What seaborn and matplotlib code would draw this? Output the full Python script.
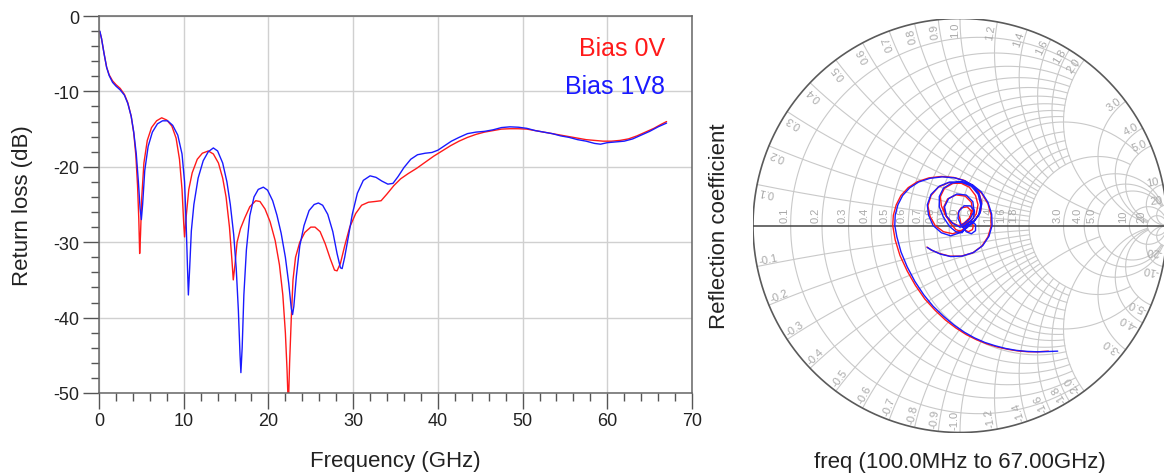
import numpy as np
import pandas as pd
import matplotlib
matplotlib.use("Agg")
import matplotlib.pyplot as plt
import seaborn as sns
from matplotlib.ticker import MultipleLocator

# ---------------- data: return loss (dB) vs frequency (GHz) ----------------
freq_0v = [0.1, 0.3, 0.6, 0.9, 1.2, 1.6, 2.0, 2.5, 3.0, 3.4, 3.8, 4.1, 4.35, 4.55, 4.7, 4.8,
           4.9, 5.05, 5.3, 5.7, 6.2, 6.8, 7.4, 8.0, 8.6, 9.1, 9.5, 9.8, 10.0, 10.1, 10.3, 10.6,
           11.0, 11.6, 12.2, 12.9, 13.5, 14.1, 14.6, 15.0, 15.4, 15.7, 15.85, 16.05, 16.3, 16.7,
           17.2, 17.8, 18.5, 19.0, 19.6, 20.2, 20.8, 21.3, 21.7, 22.0, 22.2, 22.35, 22.5, 22.7,
           22.9, 23.2, 23.7, 24.3, 25.0, 25.5, 26.1, 26.7, 27.3, 27.8, 28.1, 28.5, 29.0, 29.6,
           30.3, 31.0, 31.8, 32.6, 33.3, 34.0, 34.8, 35.6, 36.5, 37.5, 38.5, 39.5, 40.5, 41.5,
           42.5, 43.5, 44.5, 45.5, 46.5, 47.5, 48.5, 49.5, 50.5, 51.5, 52.5, 53.5, 54.5, 55.5,
           56.5, 57.5, 58.5, 59.5, 60.5, 61.5, 62.5, 63.5, 64.5, 65.5, 66.3, 67.0]
rl_0v = [-2.1, -3.0, -5.0, -6.8, -7.8, -8.6, -9.1, -9.6, -10.4, -11.5, -13.3, -15.5, -18.5, -22.5, -27.0, -31.5,
         -29.0, -24.0, -19.5, -16.5, -14.8, -13.9, -13.5, -13.8, -14.6, -16.2, -19.0, -23.0, -27.5, -29.3, -26.5, -23.0,
         -20.8, -19.0, -18.2, -17.9, -18.3, -19.5, -21.5, -24.0, -28.0, -32.5, -35.0, -33.0, -30.0, -28.2,
         -26.8, -25.3, -24.5, -24.6, -25.6, -27.3, -29.8, -33.0, -37.0, -42.0, -47.0, -52.0, -46.0, -40.0,
         -35.0, -32.0, -30.0, -28.7, -28.0, -28.0, -28.6, -30.2, -32.2, -33.7, -33.8, -32.8, -30.5, -28.0,
         -26.2, -25.1, -24.7, -24.6, -24.5, -23.6, -22.5, -21.6, -20.9, -20.2, -19.4, -18.6, -17.9, -17.2,
         -16.6, -16.1, -15.7, -15.4, -15.2, -15.0, -14.95, -14.95, -15.0, -15.2, -15.4, -15.6, -15.8, -16.0,
         -16.2, -16.4, -16.5, -16.6, -16.6, -16.5, -16.3, -15.9, -15.4, -14.9, -14.4, -14.0]

freq_1v8 = [0.1, 0.3, 0.6, 0.9, 1.2, 1.6, 2.0, 2.5, 3.0, 3.4, 3.8, 4.1, 4.4, 4.65, 4.85, 5.0,
            5.15, 5.4, 5.8, 6.3, 6.9, 7.5, 8.1, 8.7, 9.3, 9.8, 10.1, 10.3, 10.45, 10.55, 10.7, 10.9,
            11.2, 11.7, 12.3, 12.9, 13.5, 14.0, 14.6, 15.1, 15.5, 15.9, 16.2, 16.45, 16.65, 16.75,
            16.9, 17.1, 17.4, 17.8, 18.3, 18.8, 19.4, 19.9, 20.5, 21.0, 21.5, 22.0, 22.4, 22.7,
            22.85, 23.0, 23.3, 23.7, 24.2, 24.8, 25.4, 25.9, 26.4, 27.0, 27.6, 28.1, 28.5, 28.7,
            29.0, 29.4, 29.9, 30.5, 31.2, 32.0, 32.7, 33.4, 34.1, 34.7, 35.3, 36.0, 36.8, 37.6,
            38.5, 39.3, 40.0, 40.8, 41.6, 42.5, 43.5, 44.5, 45.5, 46.5, 47.5, 48.5, 49.5, 50.5,
            51.5, 52.5, 53.5, 54.5, 55.5, 56.5, 57.5, 58.5, 59.2, 60.0, 61.0, 62.0, 63.0, 64.0,
            65.0, 66.0, 67.0]
rl_1v8 = [-2.0, -3.0, -5.0, -6.8, -7.9, -8.8, -9.3, -9.8, -10.5, -11.6, -13.3, -15.4, -18.3, -22.0, -25.5, -27.0,
          -25.0, -20.5, -17.3, -15.4, -14.3, -13.9, -13.9, -14.5, -15.8, -18.3, -22.0, -28.0, -33.5, -37.0, -33.5, -28.5,
          -25.0, -21.5, -19.2, -18.0, -17.5, -17.9, -19.5, -22.0, -25.0, -29.0, -33.5, -39.0, -45.0, -47.3,
          -44.0, -37.0, -31.0, -26.5, -24.0, -23.0, -22.7, -23.1, -24.5, -26.4, -28.8, -32.0, -35.5, -38.8,
          -39.6, -38.5, -34.5, -30.5, -27.8, -25.8, -25.0, -24.8, -25.1, -26.3, -28.6, -31.5, -33.4, -33.5,
          -32.0, -29.5, -26.3, -23.5, -21.8, -21.2, -21.4, -21.9, -22.3, -22.2, -21.3, -20.1, -19.0, -18.4,
          -18.2, -18.1, -17.8, -17.2, -16.6, -16.1, -15.6, -15.4, -15.3, -15.1, -14.8, -14.7, -14.75, -14.9,
          -15.2, -15.4, -15.6, -15.9, -16.1, -16.4, -16.6, -16.9, -17.0, -16.8, -16.7, -16.6, -16.3, -15.8,
          -15.3, -14.7, -14.2]

# ---------------- data: reflection coefficient (real, imag) ----------------
gamma_re_0v = [0.427, 0.38, 0.33, 0.28, 0.23, 0.18, 0.13, 0.08, 0.03, -0.02, -0.07, -0.12, -0.17, -0.215,
               -0.255, -0.29, -0.313, -0.325, -0.322, -0.308, -0.285, -0.25, -0.205, -0.15, -0.09, -0.03, 0.02,
               0.06, 0.09, 0.105, 0.10, 0.075, 0.04, 0.005,
               -0.035, -0.08, -0.12, -0.145, -0.155, -0.14, -0.105, -0.055, 0.0, 0.045, 0.075, 0.087, 0.078,
               0.05, 0.02, -0.01,
               -0.04, -0.07, -0.078, -0.06, -0.02, 0.025, 0.055, 0.06, 0.045, 0.02, 0.005,
               0.0, -0.01, 0.005, 0.035, 0.055, 0.05, 0.03, 0.015,
               0.02, 0.04, 0.06, 0.065, 0.05, 0.03, 0.025,
               0.01, -0.02, -0.045, -0.07, -0.09, -0.095, -0.075, -0.035, 0.015, 0.065, 0.105, 0.135, 0.15,
               0.15, 0.135, 0.105, 0.06, 0.005, -0.05, -0.1, -0.14, -0.16]
gamma_im_0v = [-0.607, -0.61, -0.61, -0.606, -0.598, -0.587, -0.572, -0.552, -0.527, -0.495, -0.457, -0.41,
               -0.355, -0.29, -0.22, -0.145, -0.07, 0.0, 0.05, 0.10, 0.145, 0.183, 0.212, 0.23, 0.237, 0.232,
               0.218,
               0.195, 0.16, 0.115, 0.07, 0.03, 0.0, -0.025,
               -0.04, -0.03, 0.0, 0.045, 0.095, 0.145, 0.185, 0.207, 0.207, 0.185, 0.145, 0.10, 0.055,
               0.02, 0.0, 0.0,
               0.015, 0.05, 0.09, 0.128, 0.148, 0.142, 0.112, 0.07, 0.035, 0.012, 0.005,
               0.03, 0.06, 0.085, 0.09, 0.07, 0.04, 0.02, 0.0,
               -0.02, -0.03, -0.02, 0.0, 0.02, 0.015, -0.005,
               -0.03, -0.02, 0.01, 0.05, 0.095, 0.14, 0.18, 0.203, 0.207, 0.19, 0.155, 0.105, 0.05,
               -0.005, -0.055, -0.1, -0.133, -0.148, -0.148, -0.135, -0.118, -0.104]

gamma_re_1v8 = [0.472, 0.42, 0.37, 0.32, 0.27, 0.22, 0.17, 0.12, 0.07, 0.02, -0.03, -0.08, -0.13, -0.175,
                -0.218, -0.255, -0.285, -0.305, -0.315, -0.313, -0.3, -0.277, -0.243, -0.2, -0.145, -0.085,
                -0.025, 0.025,
                0.065, 0.093, 0.105, 0.097, 0.07, 0.035, 0.0,
                -0.045, -0.09, -0.13, -0.152, -0.158, -0.14, -0.1, -0.05, 0.005, 0.055, 0.088, 0.1, 0.09,
                0.06, 0.025, 0.0,
                -0.035, -0.065, -0.075, -0.055, -0.015, 0.03, 0.062, 0.068, 0.05, 0.02, 0.005,
                -0.01, -0.005, 0.02, 0.05, 0.07, 0.065, 0.04, 0.012,
                0.03, 0.055, 0.075, 0.075, 0.055, 0.035, 0.028,
                0.01, -0.02, -0.05, -0.08, -0.1, -0.1, -0.08, -0.04, 0.01, 0.06, 0.103, 0.135, 0.153,
                0.155, 0.14, 0.11, 0.066, 0.01, -0.045, -0.095, -0.135, -0.158]
gamma_im_1v8 = [-0.607, -0.609, -0.61, -0.608, -0.603, -0.594, -0.581, -0.565, -0.543, -0.515, -0.48,
                -0.438, -0.39, -0.335, -0.27, -0.2, -0.128, -0.055, 0.0, 0.05, 0.10, 0.145, 0.182, 0.21,
                0.228, 0.235, 0.23, 0.215,
                0.19, 0.152, 0.105, 0.06, 0.022, -0.01, -0.035,
                -0.05, -0.035, 0.0, 0.05, 0.10, 0.15, 0.19, 0.21, 0.21, 0.19, 0.15, 0.10, 0.05,
                0.012, -0.005, -0.008,
                0.01, 0.045, 0.09, 0.13, 0.152, 0.147, 0.115, 0.07, 0.033, 0.01, 0.0,
                0.035, 0.07, 0.095, 0.095, 0.07, 0.035, 0.01, -0.005,
                -0.03, -0.04, -0.025, 0.005, 0.02, 0.01, -0.01,
                -0.035, -0.03, -0.005, 0.04, 0.09, 0.14, 0.18, 0.205, 0.212, 0.197, 0.162, 0.112, 0.055,
                0.0, -0.052, -0.097, -0.13, -0.148, -0.15, -0.138, -0.12, -0.106]

series_names = ["Bias 0V", "Bias 1V8"]
RED = "#ff1a1a"
BLUE = "#1a1aff"

# smith chart grid values
r_values = [0.1, 0.2, 0.3, 0.4, 0.5, 0.6, 0.7, 0.8, 0.9, 1.0, 1.2, 1.4, 1.6, 1.8, 2.0, 3.0, 4.0, 5.0, 10, 20]
r_labels = ["0.1", "0.2", "0.3", "0.4", "0.5", "0.6", "0.7", "0.8", "0.9", "1.0", "1.2", "1.4", "1.6", "1.8",
            "", "3.0", "4.0", "5.0", "10", "20"]
x_values = [0.1, 0.2, 0.3, 0.4, 0.5, 0.6, 0.7, 0.8, 0.9, 1.0, 1.2, 1.4, 1.6, 1.8, 2.0, 3.0, 4.0, 5.0, 10, 20]
x_labels = ["0.1", "0.2", "0.3", "0.4", "0.5", "0.6", "0.7", "0.8", "0.9", "1.0", "1.2", "1.4", "1.6", "1.8",
            "2.0", "3.0", "4.0", "5.0", "10", "20"]

# ---------------- style ----------------
sns.set_style("white")
plt.rcParams["font.family"] = ["Liberation Sans", "DejaVu Sans"]
plt.rcParams["axes.unicode_minus"] = False

W, H = 1164, 477
fig = plt.figure(figsize=(W / 100, H / 100), dpi=100)

# ---------------- left: return loss ----------------
ax = fig.add_axes([99 / W, (H - 394) / H, 593 / W, 377 / H])
df = pd.DataFrame({
    "freq": freq_0v + freq_1v8,
    "rl": rl_0v + rl_1v8,
    "bias": [series_names[0]] * len(freq_0v) + [series_names[1]] * len(freq_1v8),
})
sns.lineplot(data=df, x="freq", y="rl", hue="bias", hue_order=series_names,
             palette={series_names[0]: RED, series_names[1]: BLUE},
             estimator=None, sort=False, lw=1.0, legend=False, ax=ax)
ax.set_xlim(0, 70)
ax.set_ylim(-50, 0)
ax.xaxis.set_major_locator(MultipleLocator(10))
ax.xaxis.set_minor_locator(MultipleLocator(2))
ax.yaxis.set_major_locator(MultipleLocator(10))
ax.yaxis.set_minor_locator(MultipleLocator(2))
ax.tick_params(which="both", bottom=True, left=True, top=False, right=False)
ax.tick_params(which="major", direction="out", length=11.5, width=1.0, color="#555555",
               labelsize=13, pad=2.5, labelcolor="#222222")
ax.tick_params(which="minor", direction="out", length=5.8, width=1.0, color="#555555")
ax.grid(True, which="major", color="#d0d0d0", lw=1.0)
ax.grid(False, which="minor")
ax.set_axisbelow(True)
for s in ax.spines.values():
    s.set_color("#666666")
    s.set_linewidth(1.1)
ax.set_xlabel("Frequency (GHz)", fontsize=16, color="#222222")
ax.set_ylabel("Return loss (dB)", fontsize=16, color="#222222")
ax.xaxis.label.set_va("center")
ax.yaxis.label.set_va("center")
ax.xaxis.set_label_coords(0.5, (394 - 462) / 377)
ax.yaxis.set_label_coords((23 - 99) / 593, 0.5)
ax.text(0.9545, 0.915, series_names[0], color=RED, fontsize=18, ha="right", va="center",
        transform=ax.transAxes)
ax.text(0.9545, 0.814, series_names[1], color=BLUE, fontsize=18, ha="right", va="center",
        transform=ax.transAxes)

# ---------------- right: Smith chart ----------------
R = 207.0
cx, cy = 960.0, 226.5
ax2 = fig.add_axes([(cx - R) / W, (H - cy - R) / H, 2 * R / W, 2 * R / H])
ax2.set_xlim(-1, 1)
ax2.set_ylim(-1, 1)
ax2.axis("off")

GRID = "#c9c9c9"
LAB = "#a9a9a9"


def gam(z):
    return (z - 1) / (z + 1)


def r_limit(r):
    if r >= 10:
        return None
    if r >= 3:
        return 20.0
    if r in (1.0, 2.0):
        return 5.0
    return 2.0


def x_limit(x):
    if x >= 10:
        return 1e6
    if x >= 3:
        return 20.0
    if x in (1.0, 2.0):
        return 5.0
    return 2.0


for r in r_values:
    lim = r_limit(r)
    if lim is None:
        t = np.linspace(0, 2 * np.pi, 400)
        c, rad = r / (1 + r), 1 / (1 + r)
        ax2.plot(c + rad * np.cos(t), rad * np.sin(t), color=GRID, lw=0.8, zorder=1)
    else:
        xs = np.tan(np.linspace(-np.arctan(lim), np.arctan(lim), 500))
        g = gam(r + 1j * xs)
        ax2.plot(g.real, g.imag, color=GRID, lw=0.8, zorder=1)

for x in x_values:
    lim = x_limit(x)
    rs = np.tan(np.linspace(0, np.arctan(lim), 500))
    for sgn in (1, -1):
        g = gam(rs + 1j * sgn * x)
        ax2.plot(g.real, g.imag, color=GRID, lw=0.8, zorder=1)

# outer rim and real axis
t = np.linspace(0, 2 * np.pi, 600)
ax2.plot(np.cos(t), np.sin(t), color="#5a5a5a", lw=1.2, zorder=2)
ax2.plot([-1, 1], [0, 0], color="#444444", lw=1.1, zorder=2)

# resistance labels along the real axis
for r, lab in zip(r_values, r_labels):
    if not lab:
        continue
    u0 = (r - 1) / (r + 1)
    ax2.text(u0 - 0.006, 0.016, lab, rotation=90, rotation_mode="anchor", ha="left", va="bottom",
             fontsize=8, color=LAB, zorder=1.5)

# reactance labels around the rim
for x, lab in zip(x_values, x_labels):
    th = np.arctan2(2 * x, x * x - 1)
    ax2.text(0.985 * np.cos(th), 0.985 * np.sin(th), lab, rotation=np.degrees(th),
             rotation_mode="anchor", ha="right", va="bottom", fontsize=8, color=LAB, zorder=1.5)
    thn = -th
    ax2.text(0.985 * np.cos(thn), 0.985 * np.sin(thn), "-" + lab, rotation=np.degrees(thn) + 180,
             rotation_mode="anchor", ha="left", va="bottom", fontsize=8, color=LAB, zorder=1.5)

dfs = pd.DataFrame({
    "re": gamma_re_0v + gamma_re_1v8,
    "im": gamma_im_0v + gamma_im_1v8,
    "bias": [series_names[0]] * len(gamma_re_0v) + [series_names[1]] * len(gamma_re_1v8),
})
sns.lineplot(data=dfs, x="re", y="im", hue="bias", hue_order=series_names,
             palette={series_names[0]: RED, series_names[1]: BLUE},
             estimator=None, sort=False, lw=1.0, legend=False, ax=ax2, zorder=3)
ax2.set_xlim(-1, 1)
ax2.set_ylim(-1, 1)
ax2.axis("off")

ax2.text(-1.164, 0.0, "Reflection coefficient", rotation=90, ha="center", va="center",
         fontsize=16, color="#222222")
ax2.text(0.0, -1.138, "freq (100.0MHz to 67.00GHz)", ha="center", va="center",
         fontsize=16, color="#222222")

fig.savefig("out.png", dpi=100)
